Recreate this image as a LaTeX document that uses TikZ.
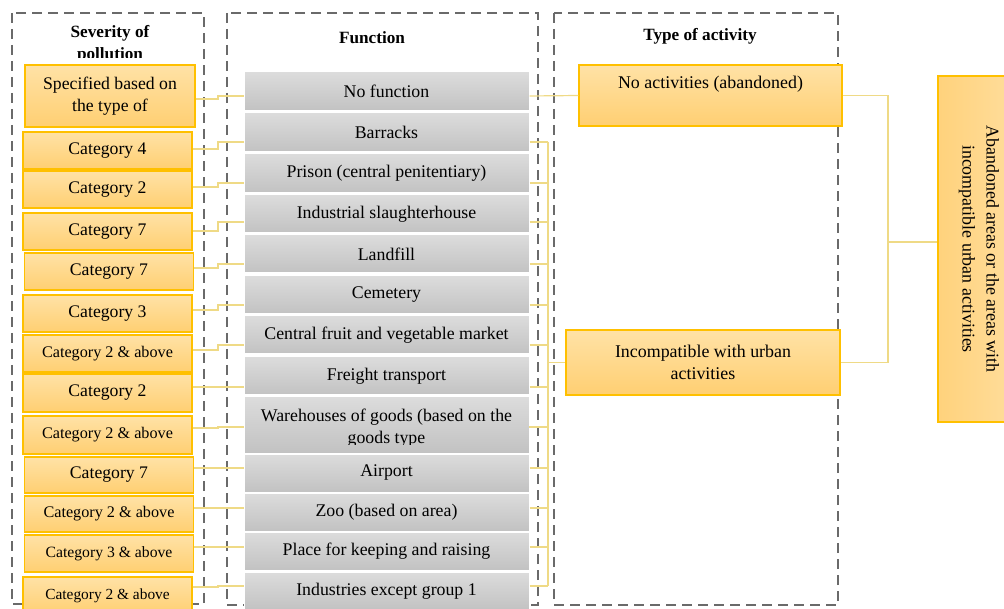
\documentclass[tikz,border=0pt]{standalone}
\usepackage{fontspec}
\setmainfont{Liberation Serif}
\usetikzlibrary{calc}
\definecolor{obord}{HTML}{FFC000}
\definecolor{otop}{HTML}{FFE2A6}
\definecolor{obot}{HTML}{FFCF72}
\definecolor{gtop}{HTML}{DCDCDC}
\definecolor{gbot}{HTML}{C2C2C2}
\definecolor{framegray}{HTML}{6A6A6A}
\definecolor{linkc}{HTML}{EFDA86}
\definecolor{bleft}{HTML}{FFD27C}
\definecolor{bright}{HTML}{FFDE9E}
\tikzset{
  obox/.style={draw=obord, line width=1.2pt, top color=otop, bottom color=obot,
    minimum width=169pt, minimum height=37pt, inner sep=0pt, align=center,
    font=\fontsize{17.7}{22}\selectfont},
  gtext/.style={minimum width=285pt, minimum height=38pt, inner sep=0pt, align=center,
    font=\fontsize{17.8}{22}\selectfont},
  gbox/.style={gtext, draw=white, line width=1pt, top color=gtop, bottom color=gbot},
  gfill/.style={draw=white, line width=1pt, top color=gtop, bottom color=gbot},
  frame/.style={draw=framegray, line width=2.9pt, dash pattern=on 10pt off 6pt},
  link/.style={draw=linkc, line width=1.2pt},
  head/.style={font=\bfseries\fontsize{17.2}{22}\selectfont, align=center, inner sep=0pt}
}
\newcommand\lconn[4]{\draw[link] ($(#1.east)+(0,#2)$) -- ($(#1.east -| xa)+(0,#2)$) -- ($(#3.west -| xa)+(0,#4)$) -- ($(#3.west)+(0,#4)$);}
\newcommand\rtick[2]{\draw[link] ($(#1.east)+(0,#2)$) -- ($(#1.east -| xb)+(0,#2)$);}
\begin{document}
\begin{tikzpicture}[x=1pt,y=-1pt]
\useasboundingbox (0,0) rectangle (1004,609);
\clip (0,0) rectangle (1004,609);
\coordinate (xa) at (218,0);
\coordinate (xb) at (548,0);
\coordinate (xc) at (888,0);
% frames
\draw[frame] (12,13) rectangle (204,604);
\draw[frame] (227,13) rectangle (538,605);
\draw[frame] (554,13) rectangle (838,605);
% headers
\begin{scope}
\clip (12,14) rectangle (204,58);
\node[head] (h1) at (110,44) {Severity of\\pollution};
\end{scope}
\node[head] (h2) at (372,38) {Function};
\node[head] (h3) at (700,36) {Type of activity};
% left boxes
\node[obox, minimum height=62pt, minimum width=170pt] (l1) at (110,96) {Specified based on\\the type of};
\node[obox] (l2) at (107.5,150.5) {Category 4};
\node[obox] (l3) at (107.5,189.5) {Category 2};
\node[obox] (l4) at (107.5,231.5) {Category 7};
\node[obox] (l5) at (109,271.5) {Category 7};
\node[obox] (l6) at (107.5,313.5) {Category 3};
\node[obox, font=\fontsize{16.2}{20}\selectfont] (l7) at (107.5,353.5) {Category 2 \& above};
\node[obox, minimum height=38pt] (l8) at (107.5,393) {Category 2};
\node[obox, minimum height=38pt, font=\fontsize{16.2}{20}\selectfont] (l9) at (107.5,435) {Category 2 \& above};
\node[obox, minimum height=36pt] (l10) at (109,475) {Category 7};
\node[obox, minimum height=36pt, font=\fontsize{16.2}{20}\selectfont] (l11) at (109,514) {Category 2 \& above};
\node[obox, font=\fontsize{15.7}{20}\selectfont] (l12) at (109,553.5) {Category 3 \& above};
\node[obox, font=\fontsize{15.4}{20}\selectfont] (l13) at (107.5,595.5) {Category 2 \& above};
% middle boxes
\node[gbox, minimum height=39pt] (m1) at (386.5,91.5) {No function};
\node[gbox, minimum height=39pt] (m2) at (386.5,132.5) {Barracks};
\node[gbox, minimum height=39pt] (m3) at (386.5,173.5) {Prison (central penitentiary)};
\node[gbox] (m4) at (386.5,214) {Industrial slaughterhouse};
\node[gbox] (m5) at (386.5,254) {Landfill};
\node[gbox] (m6) at (386.5,295) {Cemetery};
\node[gbox] (m7) at (386.5,335) {Central fruit and vegetable market};
\node[gbox] (m8) at (386.5,376) {Freight transport};
\path[gfill] (244,397) rectangle (529,453);
\begin{scope}
\clip (240,390) rectangle (535,444);
\node[gtext, minimum height=56pt] (m9) at (386.5,428.5) {Warehouses of goods (based on the\\goods type};
\end{scope}
\node[gbox] (m10) at (386.5,473) {Airport};
\node[gbox] (m11) at (386.5,512) {Zoo (based on area)};
\node[gbox] (m12) at (386.5,551) {Place for keeping and raising};
\node[gbox] (m13) at (386.5,591) {Industries except group 1};
% right boxes
\node[obox, font=\fontsize{17.9}{22}\selectfont, minimum width=263pt, minimum height=61pt] (a1) at (710.5,95.5) {\raisebox{7pt}[0pt][0pt]{No activities (abandoned)}};
\node[obox, font=\fontsize{17.9}{22}\selectfont, minimum width=274pt, minimum height=65pt] (a2) at (703,362.5) {Incompatible with urban\\activities};
\node[draw=obord, line width=1.2pt, left color=bleft, right color=bright, minimum width=83pt, minimum height=346pt, inner sep=0pt, font=\fontsize{17.9}{24}\selectfont] (big) at (979.5,249) {\rotatebox{-90}{\begin{tabular}{@{}c@{}}Abandoned areas or the areas with\\incompatible urban activities\end{tabular}}};
% left connectors
\lconn{l1}{3}{m1}{4.5}
\lconn{l2}{-1.5}{m2}{9.5}
\lconn{l3}{-2.5}{m3}{9.5}
\lconn{l4}{-0.5}{m4}{8}
\lconn{l5}{-3.5}{m5}{10}
\lconn{l6}{-3.5}{m6}{10}
\lconn{l7}{-3.5}{m7}{10}
\lconn{l8}{-6}{m8}{11}
\lconn{l9}{-7}{m9}{-1.5}
\lconn{l10}{-7}{m10}{-5}
\lconn{l11}{-6}{m11}{-4}
\lconn{l12}{-6.5}{m12}{-4}
\lconn{l13}{-8.5}{m13}{-5}
% right connectors
\draw[link] ($(m1.east)+(0,4.5)$) -- (a1.west);
\rtick{m2}{9.5}
\rtick{m3}{9.5}
\rtick{m4}{8}
\rtick{m5}{10}
\rtick{m6}{10}
\rtick{m7}{10}
\rtick{m8}{11}
\rtick{m9}{-1.5}
\rtick{m10}{-5}
\rtick{m11}{-4}
\rtick{m12}{-4}
\rtick{m13}{-5}
\draw[link] ($(m2.east -| xb)+(0,9.5)$) -- ($(m13.east -| xb)+(0,-5)$);
\draw[link] (a2.west -| xb) -- (a2.west);
\draw[link] (a1.east) -- (a1.east -| xc) |- (a2.east);
\draw[link] ($(big.west -| xc)+(0,-7)$) -- ($(big.west)+(0,-7)$);
\end{tikzpicture}
\end{document}
